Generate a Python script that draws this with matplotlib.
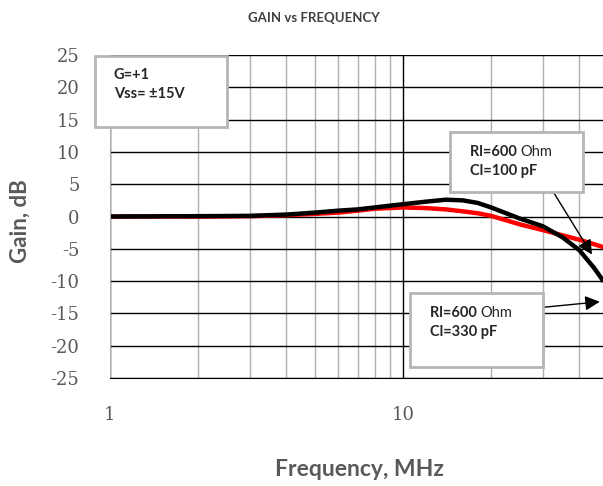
import numpy as np
import matplotlib.pyplot as plt
from matplotlib.patches import Rectangle

freq_mhz = [1, 2, 3, 4, 5, 6, 7, 8, 10, 12, 14, 16, 18, 20, 25, 30, 35, 40, 45, 48]
gain_330pf = [0, 0.05, 0.1, 0.3, 0.6, 0.9, 1.1, 1.4, 1.9, 2.3, 2.6, 2.5, 2.1, 1.4, -0.3, -1.5, -3.2, -5.2, -8.0, -9.8]
gain_100pf = [0, 0, 0.05, 0.2, 0.4, 0.6, 0.9, 1.2, 1.4, 1.3, 1.1, 0.8, 0.5, 0.1, -1.2, -2.1, -2.9, -3.6, -4.3, -4.7]
y_ticks = [25, 20, 15, 10, 5, 0, -5, -10, -15, -20, -25]
x_ticks = [1, 10]

W, H = 603, 486
fig = plt.figure(figsize=(W / 100, H / 100), dpi=100)
ax = fig.add_axes([110 / W, 1 - 378 / H, 493 / W, 323 / H])

ax.set_xscale('log')
ax.set_xlim(1, 48.2)
ax.set_ylim(-25, 25)

ax.set_xticks(x_ticks)
ax.set_xticklabels([str(t) for t in x_ticks])
ax.set_xticks([m * d for d in (1, 10) for m in range(2, 10) if m * d < 48.2], minor=True)
ax.set_xticklabels([], minor=True)
ax.set_yticks(y_ticks)
ax.set_yticklabels([str(t) for t in y_ticks])

ax.grid(True, which='major', axis='y', color='black', lw=1)
ax.grid(True, which='major', axis='x', color='black', lw=1)
ax.grid(True, which='minor', axis='x', color='#b0b0b0', lw=1)
ax.tick_params(which='both', length=0)
ax.tick_params(axis='y', pad=22, labelsize=13, labelcolor='#595959')
ax.tick_params(axis='x', pad=20, labelsize=13, labelcolor='#595959')
for lab in ax.get_xticklabels() + ax.get_yticklabels():
    lab.set_family('DejaVu Serif')

for side in ('top', 'right'):
    ax.spines[side].set_visible(False)
ax.spines['left'].set_color('#b0b0b0')
ax.spines['bottom'].set_color('black')

ax.plot(freq_mhz, gain_100pf, color='#ff0000', lw=3.2)
ax.plot(freq_mhz, gain_330pf, color='black', lw=3.2)

fig.text(314 / W, 1 - 18 / H, 'GAIN vs FREQUENCY', ha='center', va='center',
         family='Lato', weight='bold', fontsize=9.5, color='#404040')
fig.text(20 / W, 1 - 221 / H, 'Gain, dB', rotation=90, ha='center', va='center',
         family='Lato', weight='bold', fontsize=16, color='#595959')
fig.text(360 / W, 1 - 469 / H, 'Frequency, MHz', ha='center', va='center',
         family='Lato', weight='bold', fontsize=16.5, color='#595959')

# text boxes (pixel coords from top-left)
boxes = [(95, 56, 227, 127), (450, 132, 583, 192), (410, 293, 543, 367)]
for x0, y0, x1, y1 in boxes:
    fig.add_artist(Rectangle((x0 / W, 1 - y1 / H), (x1 - x0) / W, (y1 - y0) / H,
                             transform=fig.transFigure, fc='white', ec='#b5b5b5',
                             lw=2, zorder=3))

renderer = fig.canvas.get_renderer()

def put(px, py, s, bold=True):
    return fig.text(px / W, 1 - py / H, s, ha='left', va='center', family='Lato',
                    weight='bold' if bold else 'normal', fontsize=10.5,
                    color='#262626', zorder=4)

def put_rl(px, py):
    t = put(px, py, 'Rl=600 ')
    w = t.get_window_extent(renderer).width
    put(px + w, py, 'Ohm', bold=False)

put(114, 75, 'G=+1')
put(114, 94, 'Vss= \u00b115V')
put_rl(470, 152)
put(470, 171, 'Cl=100 pF')
put_rl(430, 313)
put(430, 332, 'Cl=330 pF')

ax.annotate('', xy=(44.2, -5.9), xytext=(31.8, 4.6),
            arrowprops=dict(arrowstyle='-|>', color='black', lw=1,
                            mutation_scale=22, shrinkA=0, shrinkB=0), zorder=5)
ax.annotate('', xy=(47.0, -13.2), xytext=(29.4, -14.1),
            arrowprops=dict(arrowstyle='-|>', color='black', lw=1,
                            mutation_scale=22, shrinkA=0, shrinkB=0), zorder=5)

fig.savefig('out.png', dpi=100)
